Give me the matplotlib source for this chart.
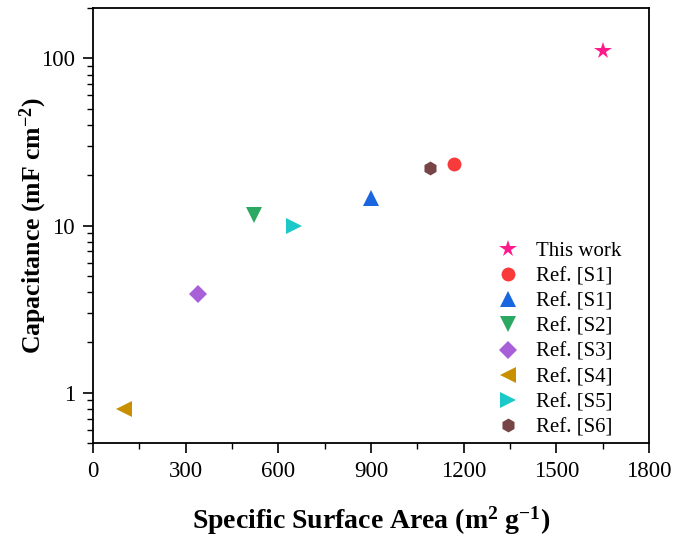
import numpy as np
import matplotlib
matplotlib.use("Agg")
import matplotlib.pyplot as plt
from matplotlib.ticker import MultipleLocator, LogLocator, NullFormatter

plt.rcParams['font.family'] = ['Liberation Serif', 'DejaVu Serif']
plt.rcParams['mathtext.default'] = 'regular'

labels = ['This work', 'Ref. [S1]', 'Ref. [S1]', 'Ref. [S2]', 'Ref. [S3]',
          'Ref. [S4]', 'Ref. [S5]', 'Ref. [S6]']
ssa = [1650, 1170, 900, 520, 340, 100, 650, 1090]
cap = [110, 23.3, 14.6, 11.5, 3.9, 0.8, 10.0, 22.2]
markers = ['*', 'o', '^', 'v', 'D', '<', '>', 'h']
colors = ['#FF1A8C', '#F83A3A', '#1A66E0', '#2DA862', '#A860D8',
          '#C89000', '#1CC8C8', '#774545']
sizes = [13, 10, 11, 11, 9, 11, 11, 10]

fig = plt.figure(figsize=(6.78, 5.4), dpi=100)
ax = fig.add_axes([93/678, 1-443/540, (649-93)/678, (443-8)/540])

for x, y, m, c, s, lab in zip(ssa, cap, markers, colors, sizes, labels):
    ax.plot([x], [y], linestyle='none', marker=m, color=c, markersize=s,
            markeredgewidth=0, label=lab)

ax.set_yscale('log')
ax.set_xlim(0, 1800)
ax.set_ylim(0.5, 200)
ax.xaxis.set_major_locator(MultipleLocator(300))
ax.xaxis.set_minor_locator(MultipleLocator(150))
ax.yaxis.set_minor_locator(LogLocator(base=10, subs=np.arange(2, 10), numticks=20))
ax.yaxis.set_minor_formatter(NullFormatter())
ax.set_yticks([1, 10, 100])
ax.set_yticklabels(['1', '10', '100'])

ax.tick_params(axis='both', which='major', direction='out', length=7, width=1.2,
               labelsize=16.5, top=False, right=False)
ax.tick_params(axis='y', which='major', pad=6)
ax.tick_params(axis='x', which='major', pad=6)
ax.tick_params(axis='both', which='minor', direction='out', length=4, width=1.0,
               top=False, right=False)
for sp in ax.spines.values():
    sp.set_linewidth(1.3)

ax.set_xlabel('Specific Surface Area (m$^{2}$ g$^{-1}$)', fontsize=20,
              fontweight='bold', labelpad=16)
ax.set_ylabel('Capacitance (mF cm$^{-2}$)', fontsize=18.5, fontweight='bold',
              labelpad=-6)

ax.legend(loc='upper left', bbox_to_anchor=(0.692, 0.497), frameon=False,
          fontsize=15, labelspacing=0.27, handletextpad=0.6, borderpad=0.2,
          handlelength=1.5)

fig.savefig('out.png', dpi=100)
